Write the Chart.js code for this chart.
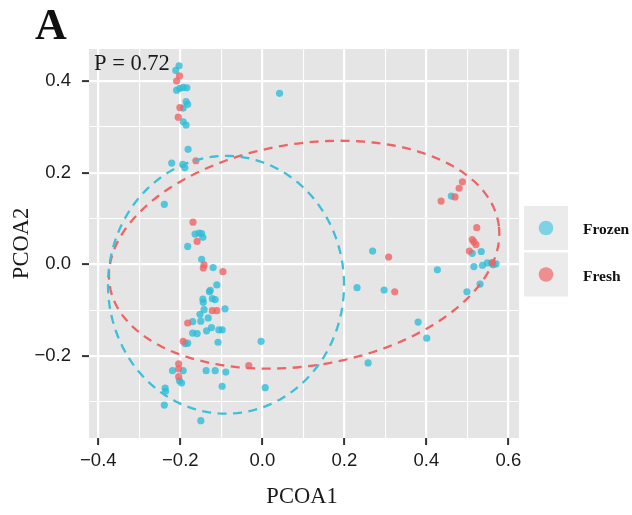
<!DOCTYPE html>
<html><head><meta charset="utf-8">
<script src="https://cdn.jsdelivr.net/npm/chart.js"></script>
<style>html,body{margin:0;padding:0;background:#fff}#wrap{width:632px;height:515px;position:relative}</style>
</head><body><div id="wrap"><canvas id="c" width="632" height="515"></canvas></div>
<script>
// ---- data ----
const groups = ['Frozen', 'Fresh'];
const frozenX = [-0.203,-0.211,-0.209,-0.201,-0.193,-0.184,-0.186,-0.182,-0.193,-0.193,-0.186,-0.181,-0.221,-0.194,-0.189,0.042,-0.239,
-0.164,-0.154,-0.148,-0.145,-0.182,-0.148,-0.120,-0.111,-0.127,-0.129,-0.145,-0.144,-0.122,-0.115,-0.091,-0.142,-0.152,-0.132,-0.150,-0.170,-0.124,-0.136,-0.106,-0.098,-0.170,-0.159,-0.108,-0.188,-0.182,-0.003,
-0.219,-0.193,-0.137,-0.115,-0.089,-0.202,-0.197,-0.237,-0.236,-0.098,0.007,-0.239,-0.150,
0.461,0.269,0.512,0.534,0.427,0.516,0.537,0.549,0.560,0.570,0.563,0.231,0.297,0.499,0.531,0.380,0.401,0.258];
const frozenY = [0.433,0.423,0.380,0.384,0.386,0.385,0.355,0.349,0.341,0.311,0.304,0.251,0.221,0.218,0.211,0.373,0.131,
0.066,0.068,0.067,0.059,0.039,0.011,-0.007,-0.045,-0.057,-0.060,-0.076,-0.083,-0.075,-0.077,-0.097,-0.099,-0.109,-0.117,-0.124,-0.125,-0.138,-0.145,-0.143,-0.143,-0.150,-0.151,-0.170,-0.173,-0.172,-0.168,
-0.232,-0.232,-0.232,-0.232,-0.235,-0.254,-0.259,-0.270,-0.277,-0.266,-0.269,-0.307,-0.341,
0.149,0.029,0.024,0.028,-0.012,-0.005,-0.002,0.003,0.003,0.001,-0.001,-0.051,-0.056,-0.060,-0.043,-0.126,-0.161,-0.215];
const freshX = [-0.202,-0.209,-0.201,-0.205,-0.162,-0.169,-0.159,-0.142,-0.144,-0.096,-0.122,-0.111,-0.182,-0.193,-0.204,-0.204,-0.204,-0.033,
0.488,0.480,0.470,0.436,0.523,0.512,0.516,0.521,0.505,0.561,0.308,0.323];
const freshY = [0.411,0.400,0.342,0.321,0.226,0.092,0.050,-0.001,-0.008,-0.016,-0.101,-0.101,-0.128,-0.168,-0.217,-0.228,-0.245,-0.221,
0.180,0.166,0.147,0.138,0.080,0.054,0.049,0.043,0.029,0.003,0.016,-0.060];
// ellipse statistics: [Frozen, Fresh]
const ellipseCX = [-0.0885, 0.102];
const ellipseCY = [-0.0447, 0.021];
const ellipseRX = [0.2878, 0.479];
const ellipseRY = [0.2812, 0.2428];
const ellipseAngleDeg = [0, 7.44];
const xMajorTicks = [-0.4, -0.2, 0, 0.2, 0.4, 0.6];
const xTickLabels = ['\u22120.4', '\u22120.2', '0.0', '0.2', '0.4', '0.6'];
const xMinorTicks = [-0.3, -0.1, 0.1, 0.3, 0.5];
const yMajorTicks = [-0.2, 0, 0.2, 0.4];
const yTickLabels = ['\u22120.2', '0.0', '0.2', '0.4'];
const yMinorTicks = [-0.3, -0.1, 0.1, 0.3];
const pLabel = 'P = 0.72';

// ---- styles ----
const pointColors = ['rgba(45,188,216,0.78)', 'rgba(240,98,100,0.78)'];
const lineColors = ['#3DBFD8', '#EE6464'];
const legendColors = ['#7DD2E4', '#EF8E8E'];
const panelBg = '#E5E5E5';

function pts(xs, ys) { return xs.map((x, i) => ({ x: x, y: ys[i] })); }
function ellipsePts(k) {
  const out = [], th = ellipseAngleDeg[k] * Math.PI / 180, n = 200;
  for (let i = 0; i <= n; i++) {
    const t = 2 * Math.PI * i / n;
    const u = ellipseRX[k] * Math.cos(t), v = ellipseRY[k] * Math.sin(t);
    out.push({ x: ellipseCX[k] + u * Math.cos(th) - v * Math.sin(th),
               y: ellipseCY[k] + u * Math.sin(th) + v * Math.cos(th) });
  }
  return out;
}
const isMajor = (arr, v) => arr.some(m => Math.abs(m - v) < 1e-9);
const labelFor = (arr, labels, v) => { const i = arr.findIndex(m => Math.abs(m - v) < 1e-9); return i >= 0 ? labels[i] : ''; };

const bgPlugin = {
  id: 'bg',
  beforeDraw(chart) {
    const { ctx, chartArea: a } = chart;
    ctx.save();
    ctx.fillStyle = '#fff'; ctx.fillRect(0, 0, chart.width, chart.height);
    ctx.fillStyle = panelBg; ctx.fillRect(a.left, a.top, a.right - a.left, a.bottom - a.top);
    ctx.restore();
  }
};
const decoPlugin = {
  id: 'deco',
  afterDraw(chart) {
    const { ctx, chartArea: a } = chart;
    ctx.save();
    ctx.fillStyle = '#111';
    ctx.textBaseline = 'alphabetic';
    ctx.font = 'bold 44px "Liberation Serif", "Times New Roman", serif';
    ctx.textAlign = 'left';
    ctx.fillText('A', 35, 39);
    ctx.fillStyle = '#1a1a1a';
    ctx.font = '22.5px "Liberation Serif", "Times New Roman", serif';
    ctx.fillText(pLabel, a.left + 5, 70);
    ctx.textAlign = 'center';
    ctx.fillText('PCOA1', (a.left + a.right) / 2 - 2, 503);
    ctx.save();
    ctx.translate(28, (a.top + a.bottom) / 2);
    ctx.rotate(-Math.PI / 2);
    ctx.fillText('PCOA2', 0, 0);
    ctx.restore();
    // legend
    const kx = 524, kw = 44, kh = 44, ky = [206, 252.5];
    groups.forEach((g, i) => {
      ctx.fillStyle = '#EBEBEB';
      ctx.fillRect(kx, ky[i], kw, kh);
      ctx.fillStyle = legendColors[i];
      ctx.beginPath();
      ctx.arc(kx + kw / 2, ky[i] + kh / 2, 7.3, 0, Math.PI * 2);
      ctx.fill();
      ctx.fillStyle = '#111';
      ctx.textAlign = 'left';
      ctx.font = 'bold 15.5px "Liberation Serif", "Times New Roman", serif';
      ctx.fillText(g, 583, ky[i] + kh / 2 + 6);
    });
    ctx.restore();
  }
};

const gridOpts = (majors) => ({
  color: '#FFFFFF',
  lineWidth: c => (c.tick && isMajor(majors, c.tick.value)) ? 2.2 : 1.1,
  drawTicks: true,
  tickLength: 7,
  tickWidth: 2,
  tickColor: c => (c.tick && isMajor(majors, c.tick.value)) ? '#333333' : 'rgba(0,0,0,0)'
});
const tickFont = { family: '"Liberation Sans", Arial, Helvetica, sans-serif', size: 18.5 };

new Chart(document.getElementById('c'), {
  type: 'scatter',
  data: {
    datasets: [
      { label: 'Frozen ellipse', data: ellipsePts(0), showLine: true, borderColor: lineColors[0], borderWidth: 2.3,
        borderDash: [9, 6.5], pointRadius: 0, fill: false, order: 0, tension: 0 },
      { label: 'Fresh ellipse', data: ellipsePts(1), showLine: true, borderColor: lineColors[1], borderWidth: 2.3,
        borderDash: [9, 6.5], pointRadius: 0, fill: false, order: 0, tension: 0 },
      { label: groups[1], data: pts(freshX, freshY), backgroundColor: pointColors[1], borderWidth: 0, pointRadius: 3.6, order: 1 },
      { label: groups[0], data: pts(frozenX, frozenY), backgroundColor: pointColors[0], borderWidth: 0, pointRadius: 3.6, order: 2 }
    ]
  },
  options: {
    responsive: false,
    animation: false,
    devicePixelRatio: 1,
    layout: { padding: { top: 49, right: 113, left: 0, bottom: 0 } },
    plugins: { legend: { display: false }, tooltip: { enabled: false } },
    scales: {
      x: {
        type: 'linear', min: -0.4227, max: 0.626,
        afterBuildTicks: s => { s.ticks = xMajorTicks.concat(xMinorTicks).sort((a, b) => a - b).map(v => ({ value: v })); },
        afterFit: s => { s.height = 77; },
        grid: gridOpts(xMajorTicks),
        border: { display: false },
        ticks: { autoSkip: false, maxRotation: 0, padding: 5, color: '#1a1a1a', font: tickFont,
                 callback: v => labelFor(xMajorTicks, xTickLabels, v) }
      },
      y: {
        type: 'linear', min: -0.3789, max: 0.4698,
        afterBuildTicks: s => { s.ticks = yMajorTicks.concat(yMinorTicks).sort((a, b) => a - b).map(v => ({ value: v })); },
        afterFit: s => { s.width = 89; },
        grid: gridOpts(yMajorTicks),
        border: { display: false },
        ticks: { autoSkip: false, padding: 11, color: '#1a1a1a', font: tickFont,
                 callback: v => labelFor(yMajorTicks, yTickLabels, v) }
      }
    }
  },
  plugins: [bgPlugin, decoPlugin]
});
</script>
</body></html>
